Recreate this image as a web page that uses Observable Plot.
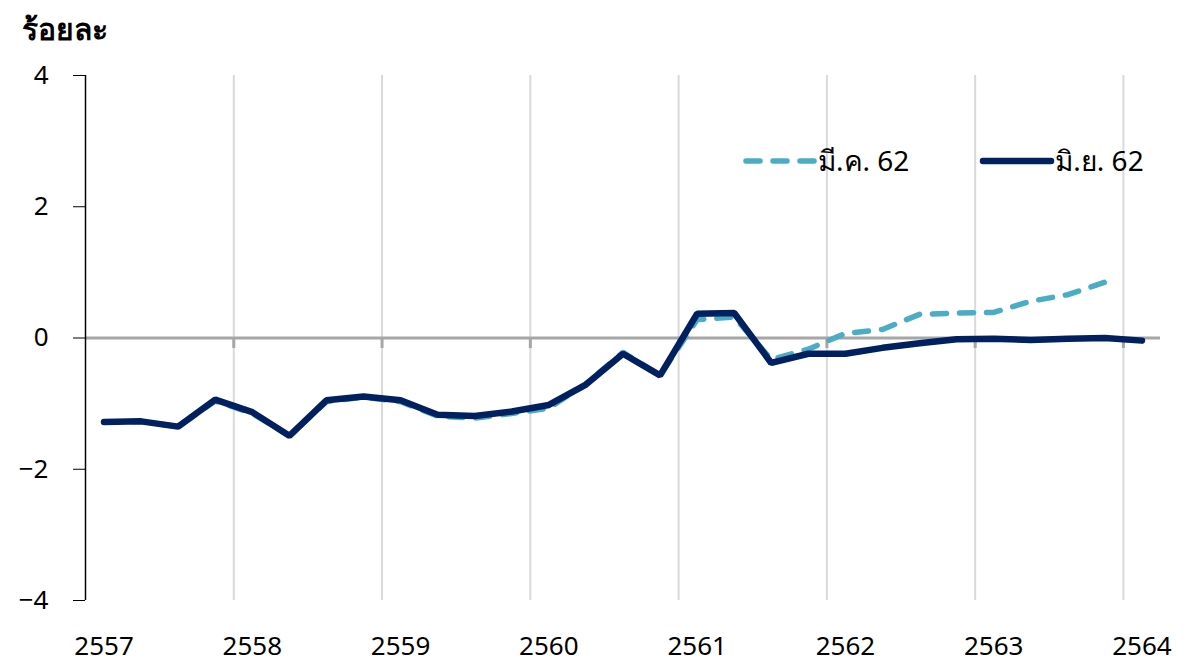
<!DOCTYPE html>
<html>
<head>
<meta charset="utf-8">
<script src="https://cdn.jsdelivr.net/npm/d3@7"></script>
<script src="https://cdn.jsdelivr.net/npm/@observablehq/plot@0.6"></script>
<style>
  html, body { margin: 0; padding: 0; background: #fff; }
  body { width: 1196px; height: 665px; position: relative; overflow: hidden;
         font-family: Tahoma, "Noto Sans", "DejaVu Sans", sans-serif; }
  #title { position: absolute; left: 22px; top: 6px; font-size: 30px; font-weight: bold; color: #000; }
  #chart { position: absolute; left: 0; top: 55px; }
  #legend { position: absolute; top: 139px; left: 742px; display: flex; align-items: center; font-size: 28px; color: #000; }
  .item { display: flex; align-items: center; }
  .item svg { display: block; }
</style>
</head>
<body>
<div id="title">ร้อยละ</div>
<div id="chart"></div>
<div id="legend"></div>
<script>
// Quarterly series, starting 2557 Q1
const startYear = 2557;
const seriesMar62 = [
  -1.28, -1.27, -1.35, -0.96,
  -1.15, -1.49, -0.97, -0.90,
  -0.97, -1.19, -1.22, -1.15,
  -1.07, -0.70, -0.22, -0.57,
   0.28,  0.32, -0.33, -0.17,
   0.07,  0.13,  0.36,  0.38,
   0.39,  0.56,  0.66,  0.85
];
const seriesJun62 = [
  -1.28, -1.27, -1.35, -0.94,
  -1.13, -1.49, -0.95, -0.89,
  -0.95, -1.17, -1.19, -1.12,
  -1.02, -0.71, -0.24, -0.57,
   0.37,  0.38, -0.38, -0.24,
  -0.24, -0.15, -0.08, -0.02,
  -0.01, -0.03, -0.01,  0.00,
  -0.04
];
const yearLabels = [2557, 2558, 2559, 2560, 2561, 2562, 2563, 2564];
const yTicks = [-4, -2, 0, 2, 4];
const seriesNames = ["มี.ค. 62", "มิ.ย. 62"];
const colors = ["#4BACC6", "#002060"];

// quarter i sits in the middle of its quarter on a continuous year axis
const toPoints = vals => vals.map((v, i) => ({ t: startYear + (i + 0.5) / 4, v }));
const mar = toPoints(seriesMar62);
const jun = toPoints(seriesJun62);
const gridYears = yearLabels.slice(1);

const chart = Plot.plot({
  width: 1196,
  height: 610,
  marginLeft: 85,
  marginRight: 36,
  marginTop: 20,
  marginBottom: 65,
  style: { fontFamily: 'Tahoma, "Noto Sans", "DejaVu Sans", sans-serif', background: "transparent", overflow: "visible" },
  x: { domain: [2557, 2564.25] },
  y: { domain: [-4, 4] },
  marks: [
    Plot.ruleX(gridYears, { y1: -4, y2: 4, stroke: "#d9d9d9", strokeWidth: 2 }),
    Plot.ruleY([0], { stroke: "#a6a6a6", strokeWidth: 3 }),
    Plot.ruleX(gridYears, { y1: 0, y2: -0.16, stroke: "#a6a6a6", strokeWidth: 3 }),
    Plot.ruleX([2557], { y1: -4, y2: 4, stroke: "#000", strokeWidth: 1.5 }),
    Plot.axisY({ ticks: yTicks, tickSize: 12, tickPadding: 25, fontSize: 26, stroke: "#000", color: "#000", label: null }),
    Plot.axisX({ ticks: yearLabels.map(y => y + 0.125), tickSize: 0, tickPadding: 36,
                 tickFormat: d => String(Math.floor(d)), fontSize: 26, color: "#000", label: null }),
    Plot.line(mar, { x: "t", y: "v", stroke: colors[0], strokeWidth: 5.5,
                     strokeDasharray: "14,13", strokeLinecap: "round" }),
    Plot.line(jun, { x: "t", y: "v", stroke: colors[1], strokeWidth: 6.5, strokeLinejoin: "miter" })
  ]
});
document.getElementById("chart").appendChild(chart);

// legend
const legend = document.getElementById("legend");
seriesNames.forEach((name, i) => {
  const item = document.createElement("div");
  item.className = "item";
  item.style.marginRight = i === 0 ? "70px" : "0";
  const ns = "http://www.w3.org/2000/svg";
  const sw = document.createElementNS(ns, "svg");
  sw.setAttribute("width", 76);
  sw.setAttribute("height", 20);
  const ln = document.createElementNS(ns, "line");
  ln.setAttribute("x1", 4); ln.setAttribute("x2", 72);
  ln.setAttribute("y1", 10); ln.setAttribute("y2", 10);
  ln.setAttribute("stroke", colors[i]);
  ln.setAttribute("stroke-width", i === 0 ? 5.5 : 6.5);
  ln.setAttribute("stroke-linecap", "round");
  if (i === 0) ln.setAttribute("stroke-dasharray", "14,13");
  sw.appendChild(ln);
  const label = document.createElement("span");
  label.textContent = name;
  item.appendChild(sw);
  item.appendChild(label);
  legend.appendChild(item);
});
</script>
</body>
</html>
